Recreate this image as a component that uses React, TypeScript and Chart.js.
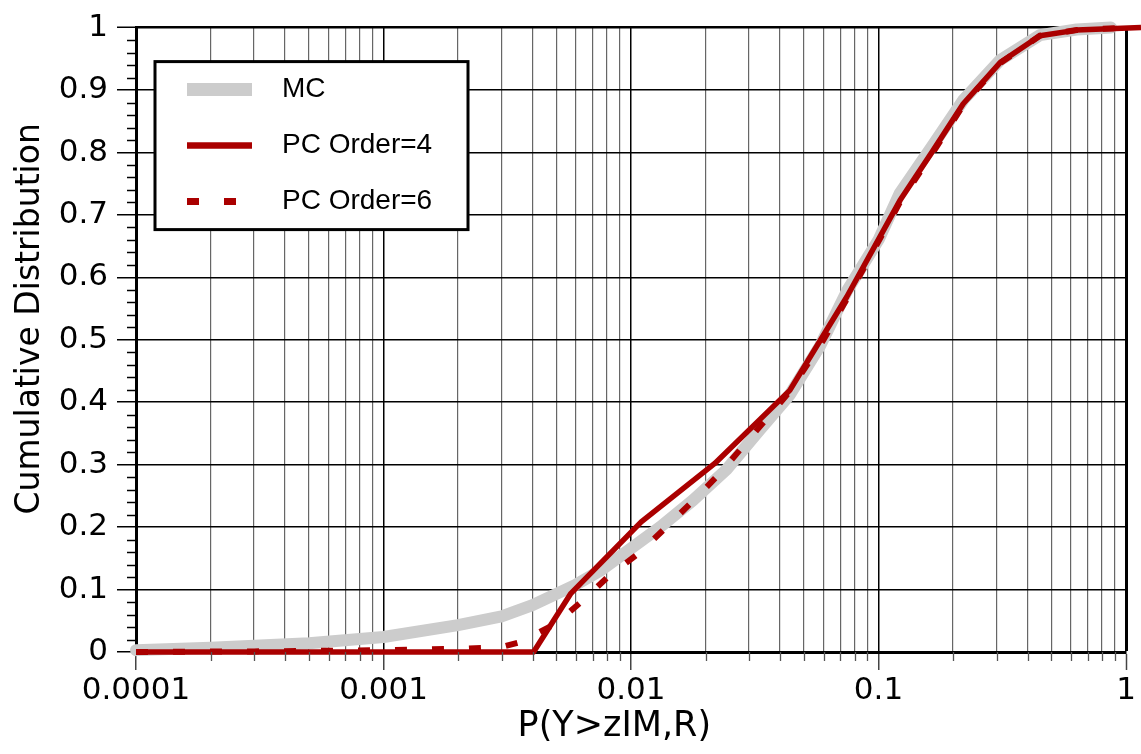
import React, { useEffect, useRef } from 'react';
import { Chart, registerables } from 'chart.js';

Chart.register(...registerables);

// ---------- data ----------
const seriesLabels = ['MC', 'PC Order=4', 'PC Order=6'];

const mcX = [0.0001, 0.0002, 0.0005, 0.001, 0.002, 0.003, 0.004, 0.006, 0.0075, 0.01, 0.0131, 0.0178, 0.0243, 0.0332, 0.0438, 0.058, 0.075, 0.1, 0.122, 0.166, 0.22, 0.31, 0.449, 0.632, 0.87];
const mcY = [0.003, 0.007, 0.014, 0.024, 0.043, 0.057, 0.075, 0.108, 0.13, 0.166, 0.2, 0.243, 0.292, 0.356, 0.412, 0.49, 0.58, 0.66, 0.735, 0.812, 0.884, 0.948, 0.988, 0.997, 1.0];

const pc4X = [0.0001, 0.00404, 0.00572, 0.011, 0.0218, 0.0438, 0.0744, 0.122, 0.166, 0.22, 0.31, 0.449, 0.632, 1.15];
const pc4Y = [0, 0, 0.094, 0.2085, 0.302, 0.419, 0.5685, 0.723, 0.803, 0.878, 0.944, 0.987, 0.996, 1.0];

const pc6X = [0.0001, 0.0003, 0.0006, 0.001, 0.002, 0.003, 0.0035, 0.004, 0.005, 0.0064, 0.0082, 0.0109, 0.0138, 0.0176, 0.0226, 0.028, 0.035, 0.0433, 0.06, 0.0744, 0.122, 0.166, 0.22, 0.31, 0.449, 0.632, 1.0];
const pc6Y = [0, 0.001, 0.002, 0.003, 0.005, 0.008, 0.015, 0.026, 0.046, 0.083, 0.123, 0.16, 0.199, 0.24, 0.284, 0.327, 0.372, 0.415, 0.5, 0.565, 0.72, 0.8, 0.876, 0.943, 0.987, 0.996, 1.0];

const xDecades = [0.0001, 0.001, 0.01, 0.1, 1];
const xTickLabels = ['0.0001', '0.001', '0.01', '0.1', '1'];
const xMultipliers = [1, 2, 3, 4, 5, 6, 7, 8, 9];

const yTickValues = [0, 0.1, 0.2, 0.3, 0.4, 0.5, 0.6, 0.7, 0.8, 0.9, 1];
const yTickLabels = ['0', '0.1', '0.2', '0.3', '0.4', '0.5', '0.6', '0.7', '0.8', '0.9', '1'];
const yMinorStep = 0.02;

const xTitle = 'P(Y>zIM,R)';
const yTitle = 'Cumulative Distribution';

// ---------- helpers ----------
const toPts = (xs: number[], ys: number[]) => xs.map((x, i) => ({ x, y: ys[i] }));
const isPow10 = (v: number) => Math.abs(Math.log10(v) - Math.round(Math.log10(v))) < 1e-6;

const GRAY = 'rgb(204,204,204)';
const RED = 'rgb(170,0,0)';
const TICK_FONT = { family: '"DejaVu Sans"', size: 31 };

const minorTicksPlugin = {
  id: 'minorTicks',
  afterDraw(chart: any) {
    const { ctx, chartArea } = chart;
    const x = chart.scales.x;
    const y = chart.scales.y;
    ctx.save();
    ctx.strokeStyle = '#000';
    ctx.lineWidth = 1.5;
    const n = Math.round(1 / yMinorStep);
    for (let i = 0; i <= n; i++) {
      if (i % 5 === 0) continue;
      const py = Math.round(y.getPixelForValue(i * yMinorStep)) + 0.5;
      ctx.beginPath();
      ctx.moveTo(chartArea.left - 9, py);
      ctx.lineTo(chartArea.left, py);
      ctx.stroke();
    }
    ctx.strokeStyle = '#555';
    ctx.lineWidth = 1.3;
    x.ticks.forEach((t: any) => {
      if (isPow10(t.value)) return;
      const px = Math.round(x.getPixelForValue(t.value)) + 0.5;
      ctx.beginPath();
      ctx.moveTo(px, chartArea.bottom);
      ctx.lineTo(px, chartArea.bottom + 9);
      ctx.stroke();
    });
    ctx.restore();
  },
};

const boxLegendPlugin = {
  id: 'boxLegend',
  afterDraw(chart: any) {
    const { ctx, chartArea } = chart;
    const left = chartArea.left + 19;
    const top = chartArea.top + 34;
    const w = 313;
    const h = 168;
    ctx.save();
    ctx.fillStyle = '#fff';
    ctx.fillRect(left, top, w, h);
    ctx.strokeStyle = '#000';
    ctx.lineWidth = 3;
    ctx.strokeRect(left, top, w, h);
    chart.data.datasets.forEach((ds: any, i: number) => {
      const cy = top + 28 + i * 56;
      ctx.beginPath();
      ctx.strokeStyle = ds.borderColor;
      ctx.lineWidth = ds.borderWidth + 1;
      ctx.lineCap = 'butt';
      ctx.setLineDash(ds.borderDash || []);
      ctx.moveTo(left + 32, cy);
      ctx.lineTo(left + 97, cy);
      ctx.stroke();
      ctx.setLineDash([]);
      ctx.fillStyle = '#000';
      ctx.font = '28px "Liberation Sans"';
      ctx.textBaseline = 'alphabetic';
      ctx.textAlign = 'left';
      ctx.fillText(ds.label, left + 127, cy + 7);
    });
    ctx.restore();
  },
};

export default function App() {
  const ref = useRef<HTMLCanvasElement>(null);

  useEffect(() => {
    if (!ref.current) return;
    const chart = new Chart(ref.current, {
      type: 'line',
      data: {
        datasets: [
          {
            label: seriesLabels[0],
            data: toPts(mcX, mcY),
            borderColor: GRAY,
            borderWidth: 12,
            borderCapStyle: 'round',
            borderJoinStyle: 'round',
            pointRadius: 0,
            tension: 0,
            clip: false,
            order: 3,
          },
          {
            label: seriesLabels[1],
            data: toPts(pc4X, pc4Y),
            borderColor: RED,
            borderWidth: 5.5,
            borderCapStyle: 'butt',
            borderJoinStyle: 'round',
            pointRadius: 0,
            tension: 0,
            clip: false,
            order: 2,
          },
          {
            label: seriesLabels[2],
            data: toPts(pc6X, pc6Y),
            borderColor: RED,
            borderWidth: 6,
            borderDash: [12, 25],
            borderCapStyle: 'butt',
            borderJoinStyle: 'miter',
            pointRadius: 0,
            tension: 0,
            clip: false,
            order: 1,
          },
        ] as any,
      },
      options: {
        responsive: false,
        animation: false,
        devicePixelRatio: 1,
        layout: { padding: { top: 27, right: 15, left: 0, bottom: 0 } },
        plugins: {
          legend: { display: false },
          tooltip: { enabled: false },
        },
        scales: {
          x: {
            type: 'logarithmic',
            min: 0.0001,
            max: 1,
            afterBuildTicks: (scale: any) => {
              const vals: any[] = [];
              xDecades.forEach((d, di) => {
                xMultipliers.forEach((m) => {
                  if (di === xDecades.length - 1 && m > 1) return;
                  vals.push({ value: d * m, major: m === 1 });
                });
              });
              scale.ticks = vals;
            },
            afterFit: (scale: any) => {
              scale.height = 102;
            },
            ticks: {
              autoSkip: false,
              maxRotation: 0,
              minRotation: 0,
              padding: 2,
              color: '#000',
              font: TICK_FONT,
              callback: (value: any) => {
                const v = Number(value);
                const idx = xDecades.findIndex((d) => Math.abs(d - v) / d < 1e-6);
                return idx >= 0 ? xTickLabels[idx] : '';
              },
            },
            grid: {
              color: (c: any) => (c.tick && isPow10(c.tick.value) ? '#000' : '#666'),
              lineWidth: (c: any) =>
                c.tick && Math.abs(c.tick.value - 1) < 1e-9 ? 3 : c.tick && isPow10(c.tick.value) ? 1.5 : 1.2,
              tickColor: (c: any) => (c.tick && isPow10(c.tick.value) ? '#444' : 'rgba(0,0,0,0)'),
              tickLength: 18,
              tickWidth: 1.5,
              drawTicks: true,
            },
            border: { display: true, color: '#000', width: 3 },
            title: {
              display: true,
              text: xTitle + '   ',
              color: '#000',
              font: { family: '"DejaVu Sans"', size: 35 },
              padding: { top: 0, bottom: 6 },
            },
          },
          y: {
            type: 'linear',
            min: 0,
            max: 1,
            afterBuildTicks: (scale: any) => {
              scale.ticks = yTickValues.map((v) => ({ value: v }));
            },
            afterFit: (scale: any) => {
              scale.width = 136;
            },
            ticks: {
              padding: 9,
              color: '#000',
              font: TICK_FONT,
              callback: (value: any) => {
                const v = Number(value);
                const idx = yTickValues.findIndex((t) => Math.abs(t - v) < 1e-6);
                return idx >= 0 ? yTickLabels[idx] : '';
              },
            },
            grid: {
              color: '#000',
              lineWidth: (c: any) => (c.tick && Math.abs(c.tick.value - 1) < 1e-9 ? 2.5 : 1.5),
              tickColor: '#000',
              tickLength: 19,
              tickWidth: 1.5,
            },
            border: { display: true, color: '#000', width: 3 },
            title: {
              display: true,
              text: '    ' + yTitle,
              color: '#000',
              font: { family: '"DejaVu Sans"', size: 33 },
              padding: { top: 11, bottom: 0 },
            },
          },
        },
      } as any,
      plugins: [minorTicksPlugin, boxLegendPlugin],
    });
    return () => chart.destroy();
  }, []);

  return (
    <div style={{ position: 'fixed', left: 0, top: 0, width: 1141, height: 754, background: '#fff' }}>
      <canvas ref={ref} width={1141} height={754} style={{ display: 'block', width: 1141, height: 754 }} />
    </div>
  );
}
